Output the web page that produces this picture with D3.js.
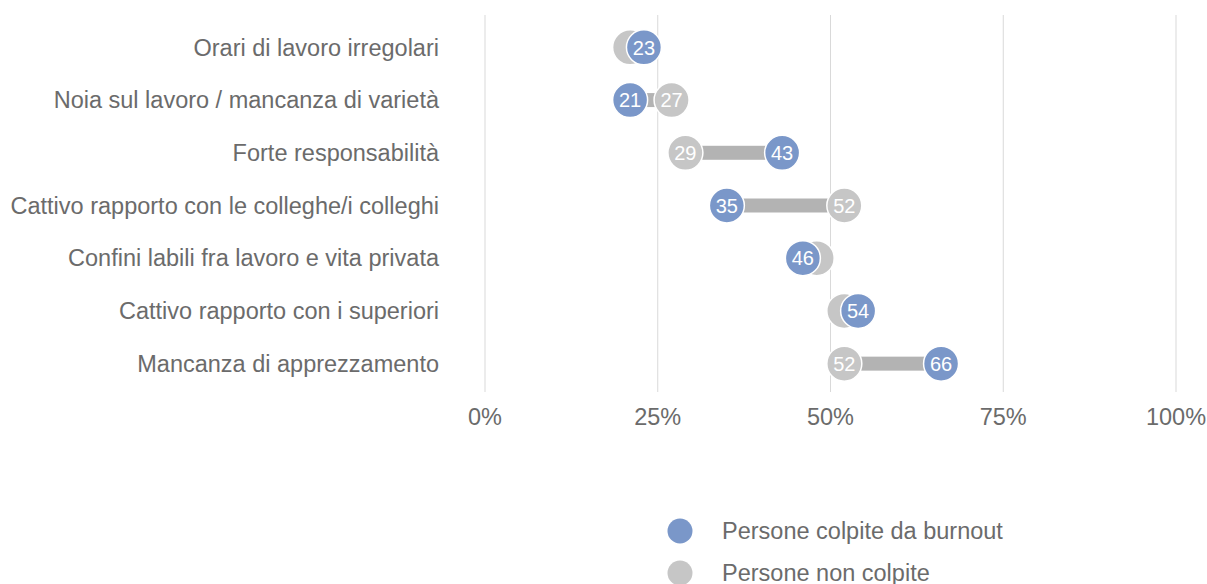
<!DOCTYPE html>
<html><head><meta charset="utf-8">
<script src="https://cdn.jsdelivr.net/npm/d3@7"></script>
<style>body{margin:0;background:#fff}svg{display:block;font-family:"Liberation Sans",Arial,Helvetica,sans-serif}</style>
</head><body><svg id="c" width="1207" height="584"></svg>
<script>
const categories = ["Orari di lavoro irregolari","Noia sul lavoro / mancanza di varietà","Forte responsabilità","Cattivo rapporto con le colleghe/i colleghi","Confini labili fra lavoro e vita privata","Cattivo rapporto con i superiori","Mancanza di apprezzamento"];
const burnout = [23,21,43,35,46,54,66];
const nonBurnout = [21,27,29,52,48,52,52];
const tickValues = [0,25,50,75,100];
const tickLabels = ["0%","25%","50%","75%","100%"];
const seriesNames = ["Persone colpite da burnout","Persone non colpite"];
const colors = ["#7a97c9","#c6c6c6"];

const svg = d3.select("#c");
const x = d3.scaleLinear().domain([0,100]).range([485,1176]);
const y = d3.scaleBand().domain(categories).range([21,390]).paddingInner(0).paddingOuter(0);
const cy = c => y(c) + y.bandwidth()/2;
const r = 17.5;
const fs = 23.5;

// grid
svg.append("g").selectAll("line").data(tickValues).join("line")
  .attr("x1",d=>x(d)).attr("x2",d=>x(d)).attr("y1",15).attr("y2",392)
  .attr("stroke","#d9d9d9").attr("stroke-width",1);
// axis labels
svg.append("g").selectAll("text").data(tickValues).join("text")
  .attr("x",d=>x(d)).attr("y",417).attr("dy","0.35em").attr("text-anchor","middle")
  .attr("font-size",fs).attr("fill","#6b6b6b").text((d,i)=>tickLabels[i]);
// category labels
svg.append("g").selectAll("text").data(categories).join("text")
  .attr("x",439).attr("y",d=>cy(d)).attr("dy","0.35em").attr("text-anchor","end")
  .attr("font-size",fs).attr("fill","#6b6b6b").text(d=>d);

const rows = categories.map((c,i)=>({c,b:burnout[i],n:nonBurnout[i]}));
// connectors
svg.append("g").selectAll("rect").data(rows).join("rect")
  .attr("x",d=>x(Math.min(d.b,d.n))).attr("width",d=>Math.abs(x(d.b)-x(d.n)))
  .attr("y",d=>cy(d.c)-7).attr("height",14).attr("fill","#b3b3b3");
// grey dots
const g1 = svg.append("g").selectAll("g").data(rows).join("g");
g1.append("circle").attr("cx",d=>x(d.n)).attr("cy",d=>cy(d.c)).attr("r",r)
  .attr("fill",colors[1]).attr("stroke","#fff").attr("stroke-width",1.5);
g1.filter(d=>Math.abs(d.b-d.n)>=5).append("text").attr("x",d=>x(d.n)).attr("y",d=>cy(d.c)).attr("dy","0.36em")
  .attr("text-anchor","middle").attr("font-size",20).attr("fill","#fff").text(d=>d.n);
// blue dots
const g2 = svg.append("g").selectAll("g").data(rows).join("g");
g2.append("circle").attr("cx",d=>x(d.b)).attr("cy",d=>cy(d.c)).attr("r",r)
  .attr("fill",colors[0]).attr("stroke","#fff").attr("stroke-width",1.5);
g2.append("text").attr("x",d=>x(d.b)).attr("y",d=>cy(d.c)).attr("dy","0.36em")
  .attr("text-anchor","middle").attr("font-size",20).attr("fill","#fff").text(d=>d.b);

// legend
const lg = svg.append("g").selectAll("g").data(seriesNames).join("g")
  .attr("transform",(d,i)=>`translate(680,${531+i*42})`);
lg.append("circle").attr("r",12.5).attr("fill",(d,i)=>colors[i]);
lg.append("text").attr("x",42).attr("dy","0.35em").attr("font-size",fs).attr("fill","#6b6b6b").text(d=>d);
</script></body></html>
